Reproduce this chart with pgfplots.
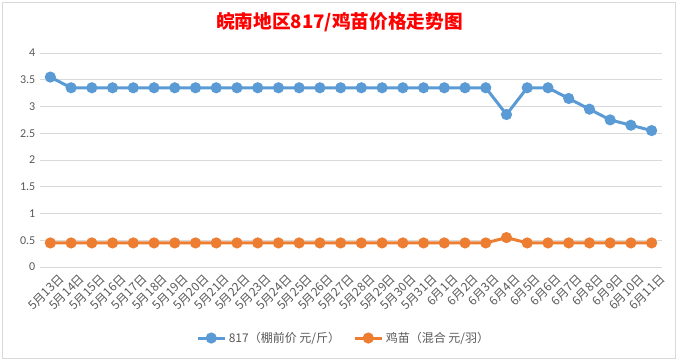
\documentclass[border=0pt]{standalone}
\usepackage{pgfplots}
\pgfplotsset{compat=1.18}
\usepackage{fontspec}
\setmainfont{Carlito}
\newfontfamily\cjk{Noto Sans CJK SC}
\definecolor{cblue}{HTML}{5B9BD5}
\definecolor{corange}{HTML}{ED7D31}
\definecolor{ctext}{HTML}{595959}
\definecolor{cgrid}{HTML}{D9D9D9}
\begin{document}
\begin{tikzpicture}
\useasboundingbox (0,0) rectangle (509.25pt,270.75pt);
\draw[cgrid, line width=0.75pt] (1.5pt,2.25pt) rectangle (506.25pt,268.5pt);
\node[font=\cjk\bfseries\fontsize{14}{16}\selectfont, text=red] at (254.6pt,254pt) {皖南地区817/鸡苗价格走势图};
\begin{axis}[
  at={(30pt,70.5pt)}, anchor=south west,
  scale only axis, width=466.5pt, height=160.5pt,
  xmin=-0.5, xmax=29.5, ymin=0, ymax=4,
  ytick={0,0.5,...,4},
  /pgf/number format/assume math mode=true,
  yticklabel style={font=\fontsize{9}{10}\selectfont, text=ctext},
  ymajorgrids, grid style={cgrid, line width=0.75pt},
  axis x line*=bottom, axis y line*=left,
  y axis line style={draw=none},
  x axis line style={cgrid, line width=0.75pt, -},
  ytick style={draw=none},
  xtick={0,...,29},
  major x tick style={draw=none},
  extra x ticks={-0.5,0.5,...,29.5},
  extra x tick labels={},
  extra x tick style={tick style={cgrid, line width=0.75pt}, major tick length=4pt, tick align=outside, grid=none},
  xticklabels={5月13日,5月14日,5月15日,5月16日,5月17日,5月18日,5月19日,5月20日,5月21日,5月22日,5月23日,5月24日,5月25日,5月26日,5月27日,5月28日,5月29日,5月30日,5月31日,6月1日,6月2日,6月3日,6月4日,6月5日,6月6日,6月7日,6月8日,6月9日,6月10日,6月11日},
  xticklabel style={font=\cjk\fontsize{9}{10}\selectfont, text=ctext, rotate=45, anchor=north east, inner sep=1pt, yshift=-6pt, xshift=2pt},
  legend style={at={(0.489,-0.332)}, anchor=center, draw=none, legend columns=2, font=\cjk\fontsize{9}{10}\selectfont, text=ctext, /tikz/every even column/.append style={column sep=8pt}},
  legend image code/.code={\draw[#1] (0pt,0pt) -- (20pt,0pt); \draw[#1, mark repeat=1] plot coordinates {(10pt,0pt)};},
]
\addplot[cblue, line width=2.25pt, mark=*, mark size=3pt] coordinates {
(0,3.55)(1,3.35)(2,3.35)(3,3.35)(4,3.35)(5,3.35)(6,3.35)(7,3.35)(8,3.35)(9,3.35)
(10,3.35)(11,3.35)(12,3.35)(13,3.35)(14,3.35)(15,3.35)(16,3.35)(17,3.35)(18,3.35)(19,3.35)
(20,3.35)(21,3.35)(22,2.85)(23,3.35)(24,3.35)(25,3.15)(26,2.95)(27,2.75)(28,2.65)(29,2.55)};
\addlegendentry{817（棚前价 元/斤）}
\addplot[corange, line width=2.25pt, mark=*, mark size=3pt] coordinates {
(0,0.45)(1,0.45)(2,0.45)(3,0.45)(4,0.45)(5,0.45)(6,0.45)(7,0.45)(8,0.45)(9,0.45)
(10,0.45)(11,0.45)(12,0.45)(13,0.45)(14,0.45)(15,0.45)(16,0.45)(17,0.45)(18,0.45)(19,0.45)
(20,0.45)(21,0.45)(22,0.55)(23,0.45)(24,0.45)(25,0.45)(26,0.45)(27,0.45)(28,0.45)(29,0.45)};
\addlegendentry{鸡苗（混合 元/羽）}
\end{axis}
\end{tikzpicture}
\end{document}
